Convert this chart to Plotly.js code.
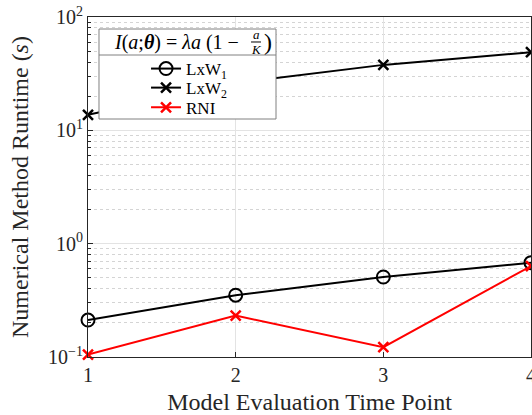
<!DOCTYPE html>
<html>
<head>
<meta charset="utf-8">
<script src="https://cdn.plot.ly/plotly-3.0.1.min.js"></script>
<style>html,body{margin:0;padding:0;background:#fff}#plot{width:532px;height:415px}</style>
</head>
<body>
<div id="plot"></div>
<script>
// Runtime of each numerical method at the four model evaluation time points
const timePoints = [1, 2, 3, 4];
const lxw1Runtime = [0.212, 0.351, 0.508, 0.68];
const lxw2Runtime = [13.7, 26.2, 37.8, 48.9];
const rniRuntime = [0.105, 0.232, 0.122, 0.635];
const yTickVals = [0.1, 1, 10, 100];
const yTickText = ['10<sup>−1</sup>', '10<sup>0</sup>', '10<sup>1</sup>', '10<sup>2</sup>'];

const serif = 'Liberation Serif, Times New Roman, serif';

// minor gridlines at 2..9 within each decade
const minorVals = [];
for (let e = -1; e < 2; e++) {
  for (let m = 2; m <= 9; m++) minorVals.push(m * Math.pow(10, e));
}

const traces = [
  {
    x: timePoints, y: lxw1Runtime, name: 'LxW<sub>1</sub>', type: 'scatter', mode: 'lines+markers',
    cliponaxis: false, legend: 'legend',
    line: {color: '#000000', width: 2},
    marker: {symbol: 'circle-open', size: 13, color: '#000000', line: {width: 2, color: '#000000'}}
  },
  {
    x: timePoints, y: lxw2Runtime, name: 'LxW<sub>2</sub>', type: 'scatter', mode: 'lines+markers',
    cliponaxis: false, legend: 'legend2',
    line: {color: '#000000', width: 2},
    marker: {symbol: 'x-thin', size: 10, color: '#000000', line: {width: 2.5, color: '#000000'}}
  },
  {
    x: timePoints, y: rniRuntime, name: 'RNI', type: 'scatter', mode: 'lines+markers',
    cliponaxis: false, legend: 'legend3',
    line: {color: '#ff0000', width: 2},
    marker: {symbol: 'x-thin', size: 10, color: '#ff0000', line: {width: 2.5, color: '#ff0000'}}
  }
];

// one single-entry legend per series so the rows sit tightly inside the frame
function legendAt(yPaper) {
  return {
    x: 0.131, xanchor: 'left', y: yPaper, yanchor: 'middle',
    bgcolor: 'rgba(0,0,0,0)', borderwidth: 0,
    font: {family: serif, size: 17, color: '#000000'},
    itemwidth: 30
  };
}

const layout = {
  width: 532, height: 415,
  margin: {l: 88, r: 1, t: 17, b: 58},
  paper_bgcolor: '#ffffff', plot_bgcolor: '#ffffff',
  font: {family: serif, size: 17, color: '#262626'},
  showlegend: true,
  legend: legendAt(0.847),
  legend2: legendAt(0.791),
  legend3: legendAt(0.733),
  xaxis: {
    range: [1, 4], tickvals: timePoints, ticktext: timePoints.map(String),
    ticklabeloverflow: 'allow',
    showline: true, mirror: true, linecolor: '#262626', linewidth: 1,
    ticks: 'inside', ticklen: 5, tickcolor: '#262626',
    showgrid: true, gridcolor: '#e3e3e3', gridwidth: 1, zeroline: false,
    tickfont: {family: serif, size: 20, color: '#262626'},
    title: {text: 'Model Evaluation Time Point', font: {family: serif, size: 24, color: '#262626'}, standoff: 8}
  },
  yaxis: {
    type: 'log', range: [-1, 2], tickvals: yTickVals, ticktext: yTickText,
    showline: true, mirror: true, linecolor: '#262626', linewidth: 1,
    ticks: 'inside', ticklen: 5, tickcolor: '#262626',
    showgrid: true, gridcolor: '#e3e3e3', gridwidth: 1, zeroline: false,
    tickfont: {family: serif, size: 20, color: '#262626'},
    minor: {tickvals: minorVals, ticks: 'inside', ticklen: 3, tickcolor: '#262626',
            showgrid: true, gridcolor: '#d4d4d4', griddash: 'dot', gridwidth: 1},
    title: {text: 'Numerical Method Runtime (<i>s</i>)', font: {family: serif, size: 24, color: '#262626'}, standoff: 12}
  },
  shapes: [
    // legend frame
    {type: 'rect', xref: 'paper', yref: 'paper', x0: 0.0248, x1: 0.4244, y0: 0.70, y1: 0.9647,
     line: {color: '#808080', width: 1}, fillcolor: '#ffffff', layer: 'above'},
    // line under the legend heading
    {type: 'line', xref: 'paper', yref: 'paper', x0: 0.0248, x1: 0.4244, y0: 0.8882, y1: 0.8882,
     line: {color: '#808080', width: 1}, layer: 'above'},
    // fraction bar of a/K
    {type: 'line', xref: 'paper', yref: 'paper', x0: 0.3680, x1: 0.3905, y0: 0.9265, y1: 0.9265,
     line: {color: '#000000', width: 1}, layer: 'above'}
  ],
  annotations: [
    {xref: 'paper', yref: 'paper', x: 0.345, y: 0.926, xanchor: 'right', yanchor: 'middle', showarrow: false,
     text: '<i>I</i>(<i>a</i>;<b><i>θ</i></b>) = <i>λa</i> (1 −',
     font: {family: serif, size: 20, color: '#000000'}},
    {xref: 'paper', yref: 'paper', x: 0.3793, y: 0.9265, xanchor: 'center', yanchor: 'bottom', showarrow: false,
     text: '<i>a</i>', font: {family: serif, size: 13, color: '#000000'}, yshift: -2},
    {xref: 'paper', yref: 'paper', x: 0.3793, y: 0.9265, xanchor: 'center', yanchor: 'top', showarrow: false,
     text: '<i>K</i>', font: {family: serif, size: 13, color: '#000000'}, yshift: 2},
    {xref: 'paper', yref: 'paper', x: 0.393, y: 0.926, xanchor: 'left', yanchor: 'middle', showarrow: false,
     text: ')', font: {family: serif, size: 24, color: '#000000'}}
  ]
};

Plotly.newPlot('plot', traces, layout, {displayModeBar: false, staticPlot: true});
</script>
</body>
</html>
